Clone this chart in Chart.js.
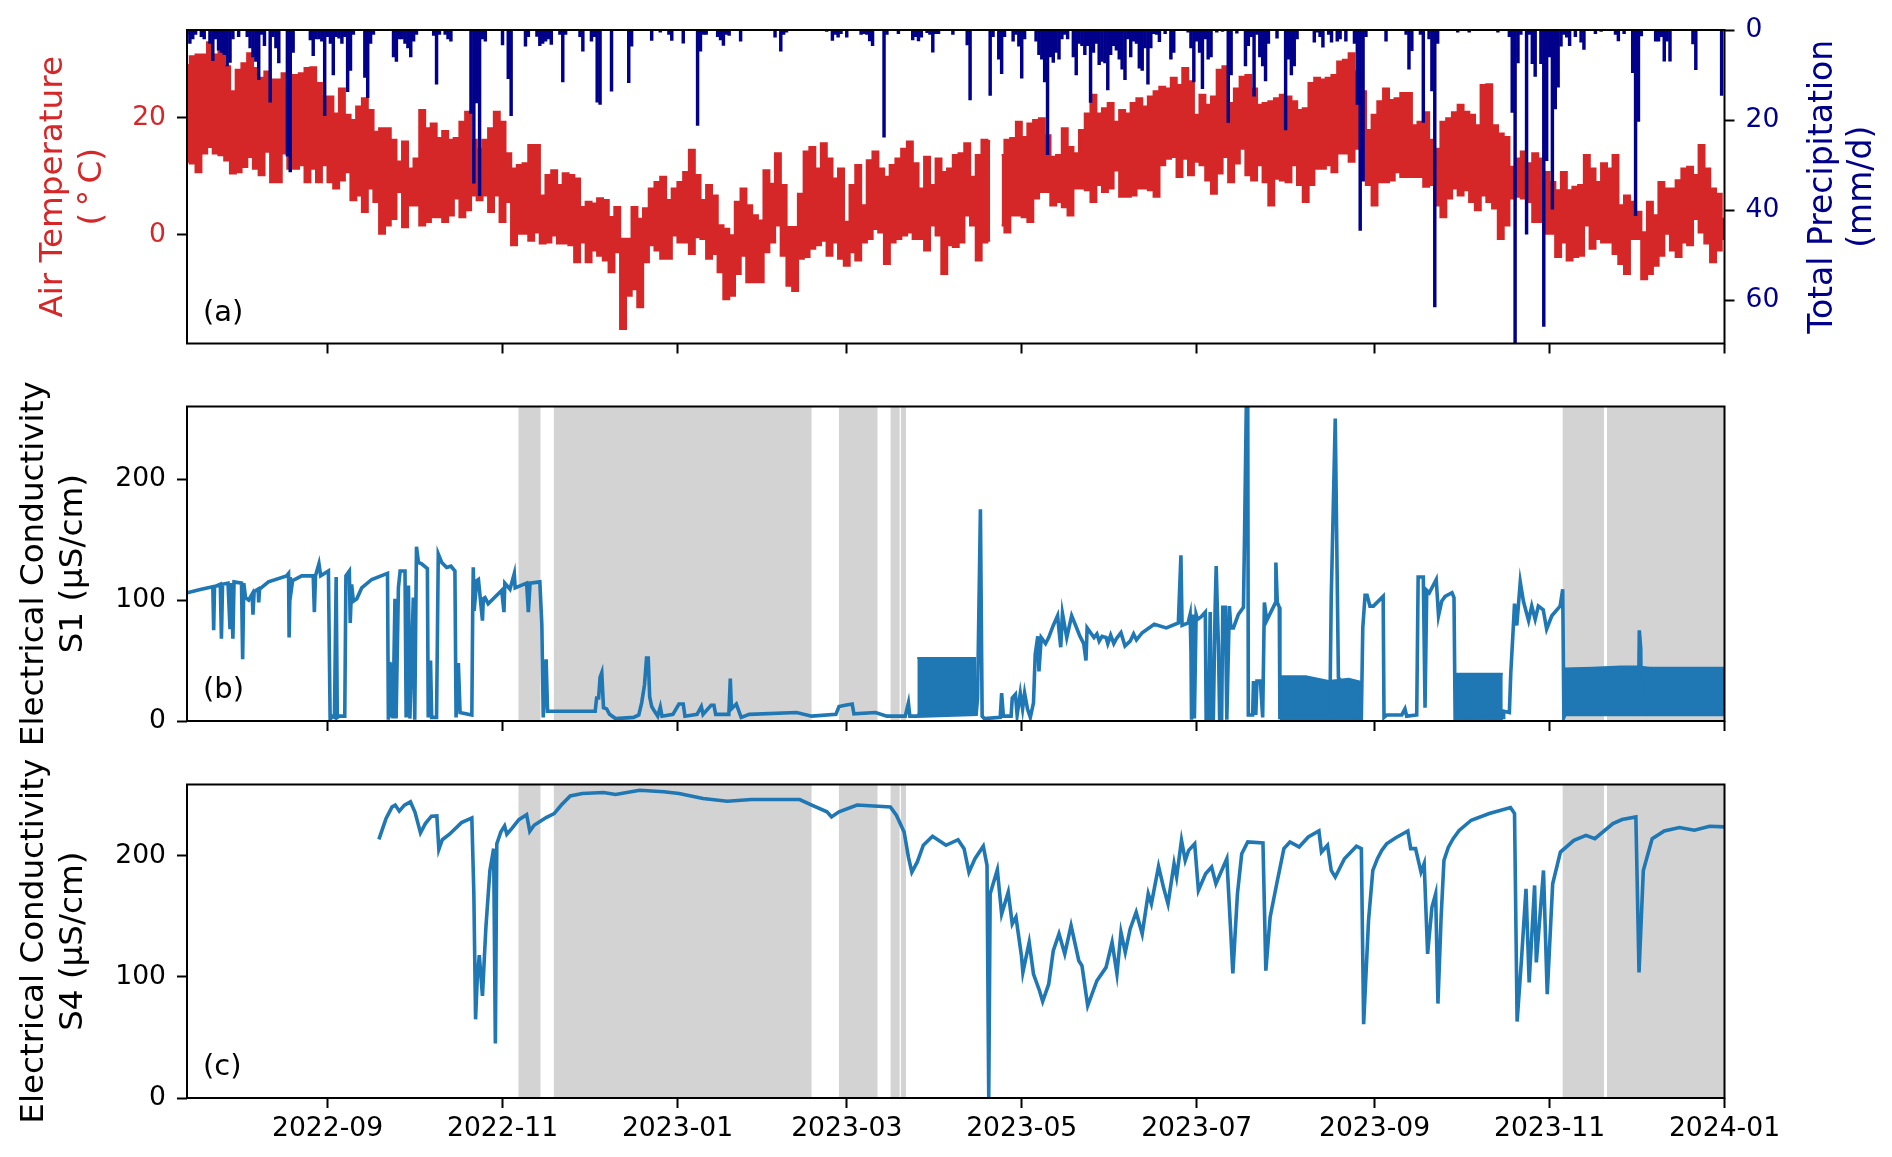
<!DOCTYPE html>
<html>
<head>
<meta charset="utf-8">
<title>Air temperature, precipitation and electrical conductivity</title>
<script src="https://cdn.jsdelivr.net/npm/chart.js@4/dist/chart.umd.min.js"></script>
<style>
  html, body { margin: 0; background: #fff; }
  canvas { position: absolute; left: 0; top: 0; }
</style>
</head>
<body>
<canvas id="panelA" width="1892" height="1157"></canvas>
<canvas id="panelB" width="1892" height="1157"></canvas>
<canvas id="panelC" width="1892" height="1157"></canvas>
<script>
// x values are days since 2022-07-14, the left edge of the axis
const axisStart = Date.UTC(2022, 6, 14);
const axisDays = 536;
const tickLabels = ['2022-09','2022-11','2023-01','2023-03','2023-05','2023-07','2023-09','2023-11','2024-01'];

// (a) air temperature, upper and lower edge of the trace, one pair every 2 days
const tempStep = 2;
const tempHigh = [
  29,30.5,30.8,30.8,32.9,30.8,31.8,28.8,24.5,28.2,
  29.3,31,28.5,26.8,27.9,26.5,26.5,27.6,26.8,27.3,
  27.6,28.5,28.6,25.9,23.6,23.6,20.7,25,20.5,19.6,
  21.9,23.3,21.3,17.6,18.2,18.2,16.2,12.5,15.9,11.3,
  13,21.3,18.2,19,16.5,17.7,16.2,16.5,19.3,21,
  16.2,14.7,16.2,18.2,21,19.3,13.9,11.3,11.9,12.2,
  15.3,15.3,6.7,10.2,11,8.5,10.5,10.2,
  9.6,4.7,5.6,5.3,6.2,5.9,3,4.7,-0.7,-0.7,
  4.7,2.7,4.5,7.9,9,9.9,5.9,7.9,9,10.7,
  14.5,10.2,5.9,8.5,6.7,1.6,1,-0.1,5.6,7.9,
  5,3.3,2.4,11,8.7,13.9,8.5,1.3,1.3,7,
  14.2,15,11.3,15.6,13,9.6,11.3,2.2,8.5,11.9,
  5,12.7,14.2,11.3,9.9,11.9,13,14.7,15.9,12.2,
  7.9,13.3,8.5,13,10.7,11.3,13.6,
  13.9,15.6,9.9,13.6,16.2,16,null,13.6,16.2,16.5,
  19.3,16.7,19,19.6,19.9,17,13.3,13.6,18.2,15,
  13.9,17.9,20.7,23.9,20.7,21.6,22.5,19.3,21.3,20.7,
  22.5,23.3,21.9,23.6,24.5,25.3,25,26.8,25.6,28.5,
  26.2,20.5,23.9,22.2,23.6,28.2,28.8,22.5,25,27,
  27.3,25,22.2,22.5,22.8,23.3,23.9,23.6,22.8,21.3,
  21.6,25.9,26.8,26.5,26.8,27.3,29.6,
  29.9,31,27.9,24.5,17.9,20.5,22.8,25,23,23.3,
  24.2,24.2,18.7,19.3,20.9,16.2,14.7,19.3,19.9,20.9,
  22.2,21,20.5,18.7,25.6,25.7,18.7,17.3,16.7,11.6,
  13,14.2,12.2,13.9,13,10.7,9,7.6,10.7,7.6,
  8.2,8.5,13.6,11.3,9,12.2,11.3,13.6,5,6.7,
  5.6,3.9,0.4,5.6,3.3,9,7.9,7.9,9.3,11.3,
  11.6,10.2,15.3,11.3,7.9,7,2.7
];
const tempLow = [
  12.5,12.2,10.7,13.9,15,13.9,13.6,12.7,10.5,10.7,
  11.6,13.3,11.3,10.2,14.2,9,9,13.9,11.3,11.3,
  11.9,9,11.3,9,11.9,9,7.9,9.3,10.7,5.9,
  6.7,3.9,7.9,5.6,0.2,1.6,2.7,7.3,1.3,5,
  5,1.6,2.2,3,3,2.2,3.3,6.2,3,4.2,
  6.7,5.9,6.7,3.9,6.7,2.2,5.6,-1.8,0.2,0.2,
  -1,0.4,-1.5,-1.3,-0.1,-1.5,-1.5,-1.8,
  -4.7,-1.3,-4.7,-2.7,-3.6,-4.4,-6.4,-3,-16.1,-10.4,
  -9.3,-12.4,-4.7,-1.8,-2.7,-4.1,-4.1,-0.1,-1.3,-1.3,
  -3.3,-0.4,-0.7,-4.1,-3.3,-6.4,-11,-10.4,-6.7,-3.6,
  -8.1,-8.1,-8.1,-3,-1.3,1.6,-3.6,-8.7,-9.6,-4.1,
  -3.8,-2.4,-1.8,-1,-3.6,-1.3,-4.1,-5.3,-3,-4.4,
  -1.3,-0.7,1,0.4,-5,-1.3,-0.7,-0.1,0.4,-0.7,
  -0.7,-2.7,1.6,-0.1,-6.7,-1.8,-2.1,
  -1.3,3.3,1.6,-4.4,-1.3,-1,null,1.6,0.4,3.3,
  3.3,3,2.2,6.2,7.3,7.3,5,5.6,4.7,3.3,
  7.9,7.9,7.6,5.6,8.5,7.3,7.9,11,6.5,6.5,
  6.7,7.9,7.9,7.6,6.5,11.9,13,13.3,9.9,13,
  10.2,12.5,11.9,9.3,7,10.5,13.3,9,12.2,14.7,
  10.2,9.3,11.9,9,5,9.6,9.3,9,11.9,8.5,
  5.6,8.5,11.3,11.3,11.9,10.7,13.9,
  13.9,12.5,14.7,9.3,8.5,5,9,9,9.3,10.7,
  9.9,9.9,9.9,9.9,8.2,8.5,5,3,6.2,7.9,
  6.7,7.6,5.6,4.2,6.7,5.6,4.5,-0.7,1.6,6.2,
  6.5,6.2,5.6,2.2,2.2,0.2,0.2,-3.8,-1.3,-4.4,
  -3.8,-3.6,1.6,-2.4,-0.7,-1.3,-1.3,-3.3,-5,-6.7,
  -0.7,-0.7,-7.6,-6.7,-5.3,-3.6,0.2,-2.7,-3.8,-1.3,
  -1.8,2.7,0.4,-1.5,-4.7,-2.7,-0.7
];

// (a) daily total precipitation, days without rain left out
const precipDays = [
  0,1,2,3,5,6,8,9,10,11,12,13,14,15,16,18,21,22,23,24,25,26,27,29,30,31,32,35,36,37,
  43,44,45,46,47,48,49,50,51,52,53,54,55,56,57,58,62,63,64,65,72,73,74,75,76,77,78,79,80,
  86,87,88,90,91,92,99,100,101,102,103,104,110,112,113,118,119,122,123,124,125,126,127,130,131,132,
  137,138,141,142,143,144,148,154,155,162,165,168,169,173,178,179,180,181,185,186,187,188,189,193,
  205,207,208,209,223,225,226,227,228,230,235,236,237,238,239,243,244,248,253,254,255,256,258,259,260,261,262,267,
  272,273,280,281,283,284,285,288,289,290,291,292,296,297,298,299,300,301,302,303,304,305,306,307,
  309,310,311,312,313,314,315,316,317,318,319,320,321,322,323,324,325,326,327,328,329,330,331,332,333,334,335,336,
  337,338,339,341,343,344,349,350,351,352,353,354,355,356,357,359,361,363,364,366,369,370,371,372,373,374,375,376,377,
  380,383,384,385,386,387,393,394,395,396,398,399,401,
  402,404,407,408,409,410,411,418,425,426,427,430,431,433,434,435,436,443,447,457,
  461,462,463,464,465,467,468,469,470,472,473,474,475,476,477,478,479,480,481,482,484,486,487,491,493,
  498,499,501,504,505,506,507,512,513,514,515,516,517,525,526,535
];
const precipValues = [
  1,3,2,1,1.5,2,3,6.8,2,4.5,5,5.5,8,7.2,2,1.5,1.5,4,6,7,11,1,3.5,16,1.5,4,7.3,28,31.5,5,
  2.2,5.7,2,2,2.5,19,1.5,3,10,1.5,1.8,3,1.5,13.7,9,1,10.5,15,3,1,6,7,2,2,3,4,6,2.5,1,
  1.2,12,1,1,2,2.5,18.5,34,16.2,36.8,2,2.5,3.3,10.8,19,3.6,1.5,1.4,3.5,3,2.5,2,3.2,1,11.5,1,
  1.5,4.7,2.5,1.5,16,16.5,13.6,11.7,3.6,2.3,0.5,1,2.3,2.9,21.2,4.7,1,1,1.5,2.2,3.4,1,1.2,2.5,
  1.6,4.7,1,0.5,0.3,2.3,1,1.6,0.8,1.6,1,0.8,1,2.4,3.5,23.8,1,0.8,2.2,1.5,2.4,1.6,0.6,1,4.9,0.8,0.8,1,
  3.3,15.5,14.5,1.5,6.5,9.7,1.5,2.5,1,3.6,10.7,2,2.5,5.5,6.5,11.5,27.7,6,7.2,5,6.5,2,1,2,
  6,10,3,3.5,5.5,3.5,16.1,5,3,7.7,7,7.3,13.3,5.5,3.5,4.5,6.5,8.7,11,2,6,2.5,3,8.5,9,4,12,4,
  0.8,1,2.6,0.8,6.5,5,0.5,4,11.5,2.5,5,13,2,6.5,6,0.5,0.3,20.5,10,0.7,8,3.5,1.5,14.7,1,6,8,11.3,3,
  1.8,22.2,6.5,10,8,2,2.7,0.5,1.5,3.8,1,2.7,2.5,
  2,2.5,3,16.5,44.5,33.5,1.5,2.5,1,8.7,4.6,1,20.5,2,13.5,61.5,3,0.5,0.5,0.5,
  1.5,18.3,69.5,7.3,1,45.3,1,7.5,10.3,7.5,65.8,29,6,39.8,17.5,12.7,3.6,1,1.6,3.5,1.5,2.7,4.3,0.8,0.3,
  1,2.4,0.8,9.5,41.2,20.3,1.3,2.5,2.5,1.5,6.9,2.5,6.9,3.1,8.8,14.5
];

// gray periods shared by panels (b) and (c)
const bandStart = [115.5,127.8,227.2,245.2,248.8,479.5,495];
const bandEnd = [123.3,217.8,240.8,248.5,250.7,494,536];

// (b) conductivity S1
const s1Days = [
  0,5,9,9.3,9.6,11.6,12,12.4,14.3,15,15.4,16,16.4,19,19.4,19.8,20.4,21.5,22.7,23,23.4,24.8,25,25.3,28.4,
  34.7,35.4,35.6,36,36.4,36.8,40,44,44.4,44.8,46,46.6,49.3,49.9,50.6,51.4,52,52.4,53,55,55.4,56.6,56.9,57.4,58,59.2,60.9,64.4,69.9,
  70.2,70.7,71,71.4,71.8,72.5,72.9,73.7,74.3,76,76.4,77.2,77.7,78.9,79.4,80,80.7,81.8,83.8,84.1,84.9,85.3,87,87.6,88.8,90.5,92,93.4,93.8,
  94.6,95.2,99.3,99.6,99.8,100.1,101,101.6,103,103.3,103.9,105,109.7,110.5,110.8,112.6,114.1,114.4,118.4,119,119.6,123,123.7,124.2,125.2,125.7,126.6,
  142.3,142.8,143.5,144,144.6,145.2,146.3,147.3,149.4,155.7,157.5,158.5,159.5,160.2,160.8,161.3,162,163,164.1,165,165.6,169.4,171.5,173,173.6,177.8,179.3,179.9,182.7,183.7,184.3,188.9,189.4,189.8,191.5,193.2,196,
  212.5,217.8,226.2,227.3,229.4,231.9,232.5,240,244,250.4,251.5,252,254.2,275.1,275.6,276.6,277.2,278,283.5,284,284.6,287.3,287.7,288.8,289.4,290.5,291.3,292,293,294,295.1,295.7,
  296.6,297,297.8,299.3,300.4,302,303.5,304.6,305.2,306.7,308.4,309.8,311.3,312.6,313.4,313.8,316.2,317.2,318,319,320.4,321,322,323.1,324,325.6,327,328.8,330,331,333,337.2,341.4,345.6,346.5,346.9,
  349,349.7,350,350.2,350.8,351.2,351.8,352.3,353.5,355,355.3,356.2,356.7,357.1,357.8,358.4,358.8,359.2,359.6,360,360.7,361.1,362,362.5,363.4,363.9,364.8,366.5,368.3,368.7,369.3,369.8,
  370,371.5,371.8,372.6,373,373.3,374.2,375,375.6,376.4,379.3,379.6,380.1,380.8,381,398.4,398.9,400.3,401.4,409.4,409.9,410.7,411.4,412.4,413.6,417,417.3,
  418.3,423.5,424.6,425.2,428.7,429.2,431,431.6,432.2,433.1,435.5,436.3,437.4,438.6,441,441.7,442.1,458.8,459,461,461.5,462.2,462.8,463.6,464.8,465.9,467.7,468.8,470,471.1,472.8,474,475.8,478.7,479.6,480,
  480.5,506,506.3,506.8,507,536
];
const s1Values = [
  106,109,111,75,111,113,68,113,114,76,114,68,115,114,51,114,102,100,105,88,107,109,98,109,115,
  120,122,69,119,109,116,120,120,90,120,130,120,124,1,4,3,119,3,4,4,120,124,81,113,99,101,110,117,122,
  1,49,3,48,2,101,2,110,124,124,3,112,2,102,1,144,131,130,126,3,50,3,3,138,131,127,128,124,3,
  48,7,5,91,127,91,116,117,83,101,102,97,108,90,114,109,122,110,114,90,114,115,80,3,51,8,8,
  8,19,19,36,40,11,10,5.5,2,3,5,15,30,52,52,20,12,8,4,11.6,4,5.5,14,14,4,5.5,12,5.5,13,13,5.5,5.5,35,10,14,3,5.5,
  7,4,5.5,12,13,14,6,7,4,4,15,4,4,5.5,19,175,4,2,3,23,4,4,19,22,5,23,10,23,10,3,15,55,
  70,41,69,64,69,79,87,61,89,69,87,79,70,64,50,77,69,72,66,70,69,64,71,64,68,73,62,66,72,67,73,80,77,81,137,79,
  81,88,58,1,88,2,88,84,86,90,1,1,90,1,1,91,128,92,61,1,1,94,94,1,95,77,77,88,94,157,262,262,
  5,5,33,5,33,33,33,3,98,83,97,131,98,94,3,3,102,250,36,3,77,104,104,95,95,103,3,
  5,5,10,4,5,119,119,11,108,106,117,87,99,103,106,102,1,3,8,7,40,70,97,79,115,99,83,95,84,95,92,76,87,95,109,3,
  5.5,5.5,75,60,5.5,5.5
];

// (b) stretches where S1 jumps too fast to show single swings, drawn as solid blocks
const s1BlockDays = [254.6,260,265,270,275.1,278, 381,390,398,405,409.8,412, 442.1,450,458.7,460, 480,490,500,506,510,520,536];
const s1BlockHigh = [52,52,52,52,52,null, 37,37,33,35,32,null, 39,39,39,null, 43.5,44,45,45,44,44,44];
const s1BlockLow = [5.5,5.5,5.5,5.5,5.5,null, 1.5,1.5,1.5,1.5,1.5,null, 1.5,1.5,1.5,null, 5.5,5.5,5.5,5.5,5.5,5.5,5.5];

// (c) conductivity S4
const s4Days = [
  66.9,69.4,71.5,72.6,74,75.8,77.9,79.5,81.4,83.1,85.2,87.1,87.8,89,91.5,95.7,99.3,100,100.6,101.2,101.9,103,104.2,105.6,106.9,107.5,108,109.4,110.7,111.5,113.2,115.7,118.4,119.5,121,125.2,
  128,130.5,133.6,137.8,145.2,149.4,157.8,166.2,171.5,179.9,188.3,196.8,213.6,217.8,223.1,224.7,227.3,233.6,245.2,247.3,250,251.5,252.7,254.6,256.7,259.9,262,264.6,
  268.8,270.9,272.6,274.7,277.6,278.9,279.5,280,282.5,284,286.3,287.7,289,290.9,291.4,293.6,295.1,297.2,298.3,300.4,302,304,306,308.2,310.9,312,314,317.2,320.4,322.5,324.2,325.6,327.1,328.8,
  330.9,333,335.1,336.2,338.7,340.4,342,344.1,345,346.7,348,349.2,351.3,352.6,355.1,357.2,358.7,362.5,363.9,364.6,366.2,367.7,369.8,375.1,376.1,377.6,379.9,382.4,384.5,387.7,390.9,394.6,395.5,397.6,398.9,400.3,403.5,407.7,409.4,410.2,
  411.9,413.4,415,416.5,418.2,421.4,425.6,426.6,428.3,430.2,431.3,432.5,434,435.3,436.1,437.2,438.2,439.7,441.4,443.5,447.7,454,461.4,462.8,463.7,465.2,466.8,467.9,469.8,470.4,472.9,474.2,476.1,478.8,483.5,487.7,490.8,497.1,500.3,505.1,506.2,507.7,510.8,515,520.3,525.5,530.8,536
];
const s4Values = [
  213.7,231,240.5,242,237,242,244.7,236,219,226.7,232.8,233,205.4,213.4,217.9,227.5,231.4,168.7,65,99.6,118,84.4,141,188,206,45,210,219.8,224.8,217.9,222.6,230,234,220.4,225.3,231.7,
  235,242,249.6,251.6,252.4,250.7,254.3,253,251.6,247.4,245.2,246.6,246.6,242,236.4,232.2,236.4,242,240.5,233.6,219.8,199,186.6,195,208.8,216.2,212.9,208.8,
  213.4,206,186.6,197.7,208,192.2,0.8,168.7,188.6,152,170,143.8,149.4,117.6,103.8,128.6,102.4,88.6,79.8,94,121.7,135.6,119,142.5,113.4,109.3,76.2,96.9,107.9,128.6,102.4,136.9,120.4,139.7,
  153.5,135.6,168.7,160.4,191.4,174.2,160.4,193.6,182.5,212.9,196.3,204.6,210,171.5,185.3,190.8,177,197.7,135.6,103,168.7,201.8,211.5,210.7,105.2,149.4,177,206,211.5,207.4,215.7,220.6,203.2,208.8,188,182.5,197.7,208,206,61,
  146.6,188,197.7,204.6,210,215,220.6,206,206,186.6,193.6,119,157.6,168.7,78,149,196.3,207,214.3,221,229.5,235,240,235,63.2,113.4,172.8,95.5,175.6,112,188,85.8,177,203.2,212.9,217,214.3,226.7,230,232.2,103.8,188,214.3,220.6,223.4,221.2,224.5,224
];

const tempTicks = [0,20];
const precipTicks = [0,20,40,60];
const ecTicks = [0,100,200];

const RED = '#d62728', NAVY = '#00008b', BLUE = '#1f77b4', GRAY = '#d3d3d3';
const X_AXIS_ROOM = 60;
Chart.defaults.font.family = '"DejaVu Sans", sans-serif';
Chart.defaults.animation = false;

function xy(days, values){ return days.map((d,i)=>({x:d, y:values[i]})); }

function tickDays(){
  return tickLabels.map(s=>{
    const [y,m] = s.split('-').map(Number);
    return (Date.UTC(y,m-1,1)-axisStart)/864e5;
  });
}

function bandData(top){
  const out = [];
  bandStart.forEach((s,i)=>{
    out.push({x:s,y:top},{x:bandEnd[i],y:top},{x:bandEnd[i],y:null});
  });
  return out;
}

function lineSet(data, color, width, order, extra){
  return Object.assign({type:'line', data, borderColor:color, backgroundColor:color, borderWidth:width,
    pointRadius:0, tension:0, spanGaps:false, order}, extra||{});
}

// spines on all four sides, the panel letter and, for (a), the right axis title
function framePlugin(letter, rightTitle){
  return {
    id:'frame',
    afterDraw(chart){
      const {ctx, chartArea:a} = chart;
      ctx.save();
      ctx.strokeStyle = '#000';
      ctx.lineWidth = 2;
      ctx.strokeRect(a.left, a.top, a.right-a.left, a.bottom-a.top);
      ctx.fillStyle = '#000';
      ctx.font = '29px "DejaVu Sans"';
      ctx.textBaseline = 'alphabetic';
      ctx.fillText(letter, 203, a.bottom-23);
      if(rightTitle){
        ctx.fillStyle = NAVY;
        ctx.font = '33px "DejaVu Sans"';
        ctx.textAlign = 'center';
        ctx.textBaseline = 'middle';
        rightTitle.forEach((t,i)=>{
          ctx.save();
          ctx.translate(1823+i*39, (a.top+a.bottom)/2);
          ctx.rotate(-Math.PI/2);
          ctx.fillText(t, 0, 0);
          ctx.restore();
        });
      }
      ctx.restore();
    }
  };
}

function xScale(showLabels){
  return {
    type:'linear', min:0, max:axisDays, offset:false,
    afterBuildTicks(s){ s.ticks = tickDays().map(v=>({value:v})); },
    afterFit(s){ s.height = X_AXIS_ROOM; },
    grid:{drawOnChartArea:false, drawTicks:true, tickLength:10, tickColor:'#000', tickWidth:2, offset:false},
    border:{display:false},
    ticks:{display:showLabels, autoSkip:false, maxRotation:0, minRotation:0, padding:5, color:'#000',
      font:{size:26.6}, callback:(v,i)=>tickLabels[i]}
  };
}

function yScale(min, max, ticks, color, title, titlePad, position){
  const s = {
    type:'linear', min, max, position,
    afterBuildTicks(sc){ sc.ticks = ticks.map(v=>({value:v})); },
    afterFit(sc){ sc.width = position==='right' ? 167.5 : 187; },
    grid:{drawOnChartArea:false, drawTicks:true, tickLength:10, tickColor:'#000', tickWidth:2},
    border:{display:false},
    ticks:{color, padding:11, font:{size:26.6}}
  };
  if(title) s.title = {display:true, text:title, color, font:{size:32.6, lineHeight:1.2}, padding:{top:titlePad, bottom:0}};
  return s;
}

function makePanel(id, top, bottom, withRight, datasets, scales, plugin){
  return new Chart(document.getElementById(id), {
    data:{datasets},
    options:{
      responsive:false,
      parsing:{xAxisKey:'x', yAxisKey:'y'},
      layout:{padding:{left:0, right:withRight?0:167.5, top, bottom:1157-bottom-X_AXIS_ROOM}},
      plugins:{legend:{display:false}, tooltip:{enabled:false}},
      scales
    },
    plugins:[plugin]
  });
}

const tempDays = tempHigh.map((v,i)=>i*tempStep);

makePanel('panelA', 30, 343.5, true, [
  lineSet(xy(tempDays,tempHigh), RED, 2.2, 2, {fill:'+1', stepped:'middle', yAxisID:'y'}),
  lineSet(xy(tempDays,tempLow), RED, 2.2, 2, {stepped:'middle', yAxisID:'y'}),
  {type:'bar', data:xy(precipDays,precipValues), backgroundColor:NAVY, barThickness:2.8, grouped:false, yAxisID:'y2', order:1}
], {
  x:xScale(false),
  y:yScale(-18.6, 35, tempTicks, RED, ['Air Temperature','(\u2009°\u2009C)'], 34, 'left'),
  y2:Object.assign(yScale(0, 69.6, precipTicks, NAVY, null, 0, 'right'), {reverse:true})
}, framePlugin('(a)', ['Total Precipitation','(mm/d)']));

makePanel('panelB', 406.5, 721, false, [
  lineSet(bandData(260), GRAY, 0, 4, {fill:'start'}),
  lineSet(xy(s1BlockDays,s1BlockHigh), BLUE, 2, 2, {fill:'+1'}),
  lineSet(xy(s1BlockDays,s1BlockLow), BLUE, 2, 2),
  lineSet(xy(s1Days,s1Values), BLUE, 3.6, 1)
], {
  x:xScale(false),
  y:yScale(0, 260, ecTicks, '#000', ['Electrical Conductivity','S1 (μS/cm)'], 15, 'left')
}, framePlugin('(b)'));

makePanel('panelC', 784.5, 1098, false, [
  lineSet(bandData(260), GRAY, 0, 4, {fill:'start'}),
  lineSet(xy(s4Days,s4Values), BLUE, 3.6, 1)
], {
  x:xScale(true),
  y:yScale(0, 259, ecTicks, '#000', ['Electrical Conductivity','S4 (μS/cm)'], 15, 'left')
}, framePlugin('(c)'));
</script>
</body>
</html>
